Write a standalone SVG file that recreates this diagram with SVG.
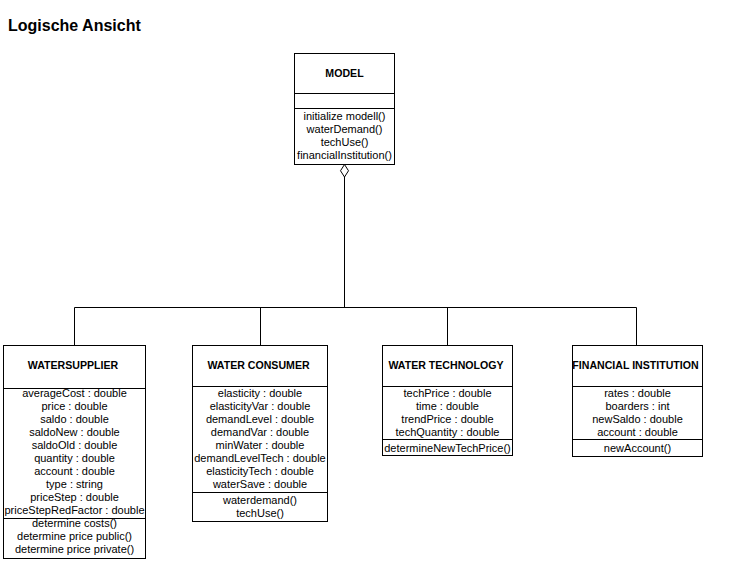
<svg xmlns="http://www.w3.org/2000/svg" width="734" height="561" viewBox="0 0 734 561">
<style>
.bx{fill:#fff;stroke:#000;stroke-width:1}
.ln{fill:none;stroke:#000;stroke-width:1}
.t{font-family:"Liberation Sans",Arial,sans-serif;font-size:11px;text-anchor:middle;fill:#000}
.n{font-family:"Liberation Sans",Arial,sans-serif;font-size:10.6px;font-weight:bold;text-anchor:middle;fill:#000}
.title{font-family:"Liberation Sans",Arial,sans-serif;font-size:16px;font-weight:bold;fill:#000}
</style>
<rect x="0" y="0" width="734" height="561" fill="#fff"/>
<text class="title" x="8" y="31">Logische Ansicht</text>

<g id="connectors">
<line class="ln" x1="344.5" y1="177" x2="344.5" y2="307.5"/>
<line class="ln" x1="74.5" y1="307.5" x2="636.5" y2="307.5"/>
<line class="ln" x1="74.5" y1="307.5" x2="74.5" y2="345.5"/>
<line class="ln" x1="260.5" y1="307.5" x2="260.5" y2="345.5"/>
<line class="ln" x1="447.5" y1="307.5" x2="447.5" y2="345.5"/>
<line class="ln" x1="636.5" y1="307.5" x2="636.5" y2="345.5"/>
<polygon class="bx" points="344.5,164.5 348.5,170.75 344.5,177 340.5,170.75"/>
</g>

<g id="model">
<rect class="bx" x="294.5" y="53.5" width="100" height="111"/>
<line class="ln" x1="294.5" y1="93.5" x2="394.5" y2="93.5"/>
<line class="ln" x1="294.5" y1="108.5" x2="394.5" y2="108.5"/>
<text class="n" x="344.5" y="77">MODEL</text>
<text class="t" x="344.5" y="119.5">initialize modell()</text>
<text class="t" x="344.5" y="132.5">waterDemand()</text>
<text class="t" x="344.5" y="145.5">techUse()</text>
<text class="t" x="344.5" y="158.5">financialInstitution()</text>
</g>

<g id="watersupplier">
<rect class="bx" x="3.5" y="345.5" width="142" height="213"/>
<line class="ln" x1="3.5" y1="388.5" x2="145.5" y2="388.5"/>
<line class="ln" x1="3.5" y1="518.5" x2="145.5" y2="518.5"/>
<text class="n" x="73" y="369">WATERSUPPLIER</text>
<text class="t" x="74.5" y="397">averageCost : double</text>
<text class="t" x="74.5" y="410">price : double</text>
<text class="t" x="74.5" y="423">saldo : double</text>
<text class="t" x="74.5" y="436">saldoNew : double</text>
<text class="t" x="74.5" y="449">saldoOld : double</text>
<text class="t" x="74.5" y="462">quantity : double</text>
<text class="t" x="74.5" y="475">account : double</text>
<text class="t" x="74.5" y="488">type : string</text>
<text class="t" x="74.5" y="501">priceStep : double</text>
<text class="t" x="74.5" y="514">priceStepRedFactor : double</text>
<text class="t" x="74.5" y="527">determine costs()</text>
<text class="t" x="74.5" y="540">determine price public()</text>
<text class="t" x="74.5" y="553">determine price private()</text>
</g>

<g id="waterconsumer">
<rect class="bx" x="192.5" y="345.5" width="135" height="176"/>
<line class="ln" x1="192.5" y1="386.5" x2="327.5" y2="386.5"/>
<line class="ln" x1="192.5" y1="492.5" x2="327.5" y2="492.5"/>
<text class="n" x="258.5" y="369">WATER CONSUMER</text>
<text class="t" x="260" y="397">elasticity : double</text>
<text class="t" x="260" y="410">elasticityVar : double</text>
<text class="t" x="260" y="423">demandLevel : double</text>
<text class="t" x="260" y="436">demandVar : double</text>
<text class="t" x="260" y="449">minWater : double</text>
<text class="t" x="260" y="462">demandLevelTech : double</text>
<text class="t" x="260" y="475">elasticityTech : double</text>
<text class="t" x="260" y="488">waterSave : double</text>
<text class="t" x="260" y="503.5">waterdemand()</text>
<text class="t" x="260" y="516.5">techUse()</text>
</g>

<g id="watertechnology">
<rect class="bx" x="382.5" y="345.5" width="130" height="110"/>
<line class="ln" x1="382.5" y1="386.5" x2="512.5" y2="386.5"/>
<line class="ln" x1="382.5" y1="439.5" x2="512.5" y2="439.5"/>
<text class="n" x="446" y="369">WATER TECHNOLOGY</text>
<text class="t" x="447.5" y="397">techPrice : double</text>
<text class="t" x="447.5" y="410">time : double</text>
<text class="t" x="447.5" y="423">trendPrice : double</text>
<text class="t" x="447.5" y="436">techQuantity : double</text>
<text class="t" x="447.5" y="451.5">determineNewTechPrice()</text>
</g>

<g id="financialinstitution">
<rect class="bx" x="572.5" y="345.5" width="130" height="111"/>
<line class="ln" x1="572.5" y1="386.5" x2="702.5" y2="386.5"/>
<line class="ln" x1="572.5" y1="439.5" x2="702.5" y2="439.5"/>
<text class="n" x="635.5" y="369">FINANCIAL INSTITUTION</text>
<text class="t" x="637.5" y="397">rates : double</text>
<text class="t" x="637.5" y="410">boarders : int</text>
<text class="t" x="637.5" y="423">newSaldo : double</text>
<text class="t" x="637.5" y="436">account : double</text>
<text class="t" x="637.5" y="451.5">newAccount()</text>
</g>
</svg>
